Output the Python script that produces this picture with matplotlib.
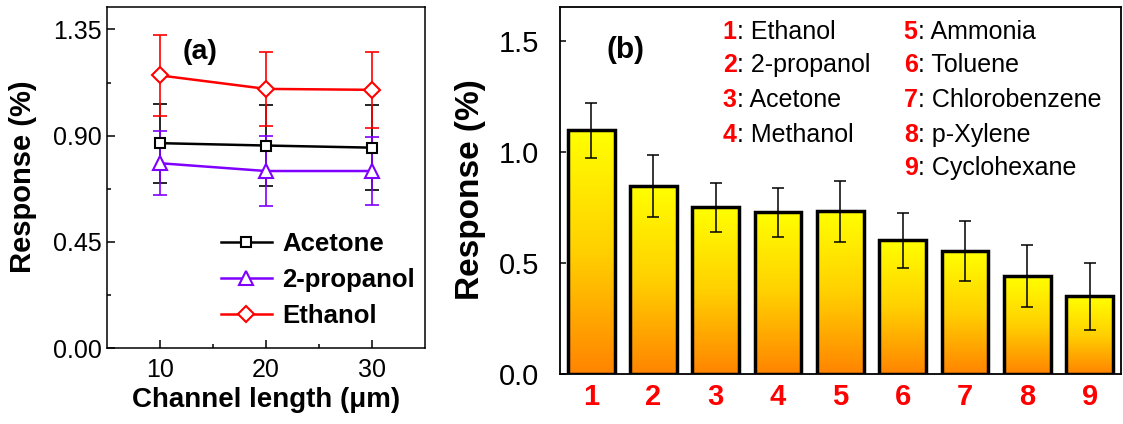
import numpy as np
import matplotlib.pyplot as plt
from matplotlib.colors import LinearSegmentedColormap

plt.rcParams['font.family'] = ['Liberation Sans', 'DejaVu Sans']

# (a) response vs channel length
channel_length = [10, 20, 30]
acetone = [0.868, 0.858, 0.849]
acetone_err = [0.167, 0.173, 0.180]
propanol = [0.783, 0.750, 0.750]
propanol_err = [0.136, 0.150, 0.145]
ethanol = [1.155, 1.098, 1.094]
ethanol_err = [0.172, 0.157, 0.162]

# (b) response to different gases
gas_ids = [1, 2, 3, 4, 5, 6, 7, 8, 9]
gas_names = ['Ethanol', '2-propanol', 'Acetone', 'Methanol', 'Ammonia',
             'Toluene', 'Chlorobenzene', 'p-Xylene', 'Cyclohexane']
response = [1.095, 0.846, 0.748, 0.727, 0.730, 0.600, 0.552, 0.439, 0.348]
response_err = [0.126, 0.140, 0.110, 0.110, 0.138, 0.125, 0.133, 0.139, 0.151]

purple = '#8000ff'

fig = plt.figure(figsize=(11.23, 4.24), dpi=100)
ax1 = fig.add_axes([0.0953, 0.1792, 0.2832, 0.8043])
ax2 = fig.add_axes([0.4987, 0.1191, 0.4993, 0.8637])

# ---- panel (a)
series = [('Acetone', acetone, acetone_err, 'black', 's', 7.5),
          ('2-propanol', propanol, propanol_err, purple, '^', 9.5),
          ('Ethanol', ethanol, ethanol_err, 'red', 'D', 8.5)]
for name, y, err, c, m, ms in series:
    ax1.errorbar(channel_length, y, yerr=err, fmt='none', ecolor=c,
                 elinewidth=1.2, capsize=5, capthick=1.2, zorder=2)
    ax1.plot(channel_length, y, color=c, lw=1.8, marker=m, ms=ms,
             mfc='white', mec=c, mew=1.5, label=name, zorder=3)

ax1.set_xlim(5, 35)
ax1.set_ylim(0, 1.445)
ax1.set_xticks([10, 20, 30])
ax1.set_xticks([15, 25], minor=True)
ax1.set_yticks([0, 0.45, 0.90, 1.35])
ax1.set_yticks([0.225, 0.675, 1.125], minor=True)
ax1.set_yticklabels(['0.00', '0.45', '0.90', '1.35'])
ax1.tick_params(which='both', direction='in', labelsize=18, width=1.1)
ax1.tick_params(which='major', length=5.5, pad=4)
ax1.tick_params(which='minor', length=3)
ax1.tick_params(axis='x', pad=7)
for s in ax1.spines.values():
    s.set_linewidth(1.1)
ax1.set_xlabel('Channel length (μm)', fontsize=20, fontweight='bold', va='center')
ax1.xaxis.set_label_coords(0.4995, -0.152)
ax1.set_ylabel('Response (%)', fontsize=21, fontweight='bold', va='center')
ax1.yaxis.set_label_coords(-0.264, 0.502)
ax1.text(0.292, 0.868, '(a)', transform=ax1.transAxes, fontsize=20.5,
         fontweight='bold', ha='center', va='center')
ax1.legend(loc='lower left', bbox_to_anchor=(0.325, 0.03), frameon=False,
           prop={'size': 18.5, 'weight': 'bold'}, handlelength=2.0,
           handletextpad=0.4, labelspacing=0.45, borderaxespad=0)

# ---- panel (b)
bar_w = 0.75
bars = ax2.bar(gas_ids, response, width=bar_w, facecolor='none',
               edgecolor='black', linewidth=2.5, zorder=3)
grad_cmap = LinearSegmentedColormap.from_list('yo', ['#ff8400', '#ffd000', '#ffff00'])
grad = np.linspace(0, 1, 256).reshape(-1, 1)
for b in bars:
    x0, h = b.get_x(), b.get_height()
    im = ax2.imshow(grad, cmap=grad_cmap, origin='lower', aspect='auto',
                    extent=(x0, x0 + b.get_width(), 0, h), zorder=2)
    im.set_clip_path(b)
ax2.errorbar(gas_ids, response, yerr=response_err, fmt='none', ecolor='black',
             elinewidth=1.1, capsize=4, capthick=1.1, zorder=4)

ax2.set_xlim(0.5, 9.5)
ax2.set_ylim(0, 1.65)
ax2.set_xticks(gas_ids)
ax2.set_xticklabels([str(i) for i in gas_ids], color='red', fontweight='bold')
ax2.set_yticks([0, 0.5, 1.0, 1.5])
ax2.tick_params(direction='in', labelsize=21, width=1.1)
ax2.tick_params(axis='y', length=4.5, pad=15)
ax2.tick_params(axis='x', length=4, pad=7, labelsize=21)
for s in ax2.spines.values():
    s.set_linewidth(1.3)
ax2.set_ylabel('Response (%)', fontsize=24, fontweight='bold', va='center')
ax2.yaxis.set_label_coords(-0.160, 0.501)
ax2.text(0.116, 0.884, '(b)', transform=ax2.transAxes, fontsize=21.5,
         fontweight='bold', ha='center', va='center')

# numbered gas key in two columns
col_x = [0.29, 0.613]
row_y = [0.933, 0.843, 0.747, 0.652, 0.560]
for i, (gid, name) in enumerate(zip(gas_ids, gas_names)):
    col, row = (0, i) if i < 4 else (1, i - 4)
    num = ax2.text(col_x[col], row_y[row], str(gid), transform=ax2.transAxes,
                   color='red', fontsize=18, fontweight='bold',
                   ha='left', va='center')
    ax2.annotate(': ' + name, xy=(1, 0.5), xycoords=num, fontsize=18,
                 ha='left', va='center')

fig.savefig('out.png', dpi=100)
